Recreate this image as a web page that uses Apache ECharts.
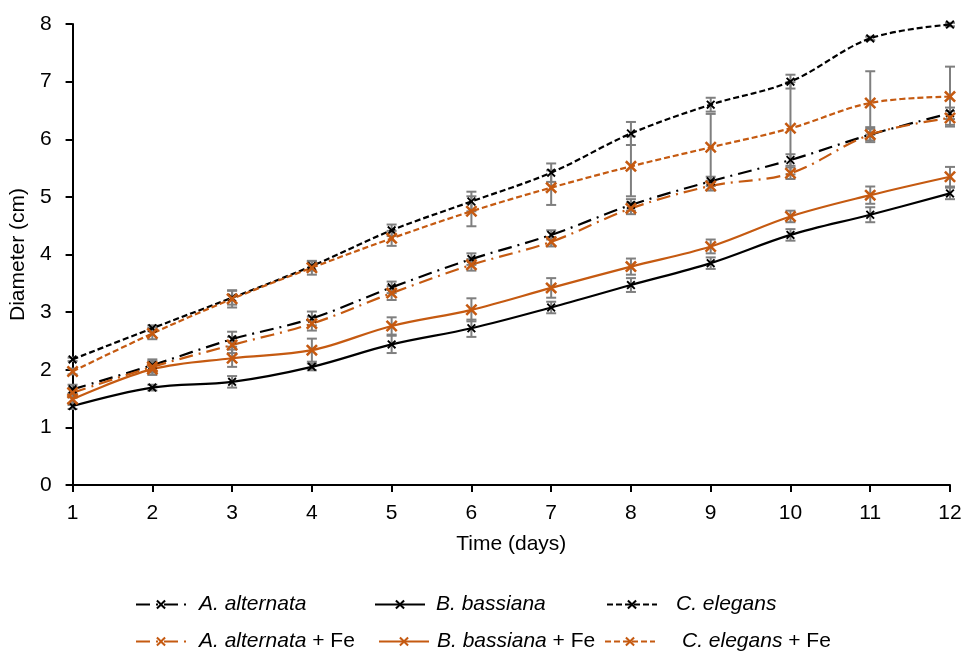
<!DOCTYPE html>
<html>
<head>
<meta charset="utf-8">
<script src="https://cdn.jsdelivr.net/npm/echarts@6/dist/echarts.min.js"></script>
<style>html,body{margin:0;padding:0;background:#fff}#c{width:965px;height:651px}</style>
</head>
<body>
<div id="c"></div>
<script>
var days = [1,2,3,4,5,6,7,8,9,10,11,12];
var yTicks = [0,1,2,3,4,5,6,7,8];

var aAlt      = [1.66, 2.08, 2.53, 2.89, 3.43, 3.92, 4.34, 4.86, 5.27, 5.64, 6.08, 6.45];
var aAltErr   = [0.08, 0.10, 0.13, 0.12, 0.10, 0.10, 0.08, 0.10, 0.08, 0.10, 0.13, 0.10];
var bBas      = [1.37, 1.69, 1.79, 2.05, 2.44, 2.72, 3.08, 3.47, 3.85, 4.34, 4.69, 5.06];
var bBasErr   = [0.05, 0.05, 0.10, 0.06, 0.15, 0.15, 0.10, 0.12, 0.10, 0.10, 0.13, 0.10];
var cEle      = [2.18, 2.72, 3.25, 3.80, 4.42, 4.92, 5.42, 6.10, 6.60, 7.00, 7.75, 7.99];
var cEleErr   = [0.03, 0.05, 0.12, 0.08, 0.10, 0.17, 0.16, 0.20, 0.12, 0.12, 0.03, 0.03];
var aAltFe    = [1.60, 2.05, 2.43, 2.80, 3.33, 3.82, 4.22, 4.80, 5.19, 5.41, 6.08, 6.37];
var aAltFeErr = [0.08, 0.10, 0.14, 0.12, 0.12, 0.10, 0.08, 0.10, 0.08, 0.10, 0.10, 0.12];
var bBasFe    = [1.49, 2.01, 2.20, 2.34, 2.76, 3.04, 3.42, 3.79, 4.14, 4.66, 5.03, 5.35];
var bBasFeErr = [0.10, 0.10, 0.15, 0.20, 0.15, 0.20, 0.17, 0.14, 0.12, 0.10, 0.15, 0.17];
var cEleFe    = [1.97, 2.63, 3.23, 3.77, 4.28, 4.75, 5.16, 5.53, 5.86, 6.19, 6.63, 6.74];
var cEleFeErr = [0.05, 0.10, 0.15, 0.12, 0.13, 0.26, 0.30, 0.52, 0.58, 0.80, 0.55, 0.52];

var names = ['A. alternata','B. bassiana','C. elegans','A. alternata + Fe','B. bassiana + Fe','C. elegans + Fe'];

var BLACK = '#000000', ORANGE = '#C55A11', GRAY = '#7f7f7f';
var FONT = 'Liberation Sans, Arial, sans-serif';
var XPATH = 'path://M0,1.5L1.5,0L5,3.5L8.5,0L10,1.5L6.5,5L10,8.5L8.5,10L5,6.5L1.5,10L0,8.5L3.5,5Z';

var defs = [
  {name: names[0], vals: aAlt,   err: aAltErr,   color: BLACK,  dash: [14,6,2,6], size: 9},
  {name: names[1], vals: bBas,   err: bBasErr,   color: BLACK,  dash: 'solid',    size: 9},
  {name: names[2], vals: cEle,   err: cEleErr,   color: BLACK,  dash: [6,3],      size: 9},
  {name: names[3], vals: aAltFe, err: aAltFeErr, color: ORANGE, dash: [14,6,2,6], size: 12},
  {name: names[4], vals: bBasFe, err: bBasFeErr, color: ORANGE, dash: 'solid',    size: 12},
  {name: names[5], vals: cEleFe, err: cEleFeErr, color: ORANGE, dash: [6,3],      size: 12}
];

function errRender(params, api) {
  var x = api.value(0), v = api.value(1), e = api.value(2);
  var t = api.coord([x, v + e]), b = api.coord([x, v - e]);
  var w = 5;
  var st = {stroke: GRAY, lineWidth: 2};
  return {type: 'group', children: [
    {type: 'line', shape: {x1: t[0], y1: t[1], x2: b[0], y2: b[1]}, style: st},
    {type: 'line', shape: {x1: t[0]-w, y1: t[1], x2: t[0]+w, y2: t[1]}, style: st},
    {type: 'line', shape: {x1: b[0]-w, y1: b[1], x2: b[0]+w, y2: b[1]}, style: st}
  ]};
}

var series = [];
defs.forEach(function (d) {
  series.push({
    type: 'custom', name: d.name + ' err', silent: true, z: 1,
    renderItem: errRender,
    encode: {x: 0, y: 1},
    data: days.map(function (dd, i) { return [dd, d.vals[i], d.err[i]]; })
  });
});
defs.forEach(function (d) {
  series.push({
    type: 'line', name: d.name, z: 3, smooth: 0.35,
    symbol: XPATH, symbolSize: d.size, showAllSymbol: true,
    itemStyle: {color: d.color},
    lineStyle: {color: d.color, width: 2.2, type: d.dash},
    emphasis: {disabled: true},
    data: days.map(function (dd, i) { return [dd, d.vals[i]]; })
  });
});

function legendFmt(name) {
  var m = name.match(/^(.*?)( \+ Fe)?$/);
  return '{i|' + m[1] + '}' + (m[2] ? '{n| + Fe}' : '');
}
var richStyle = {
  i: {fontStyle: 'italic', fontSize: 21, fontFamily: FONT, color: '#000'},
  n: {fontSize: 21, fontFamily: FONT, color: '#000'}
};
var legendPos = [
  {left: 135, top: 594, pad: 8},
  {left: 374, top: 594, pad: 6},
  {left: 606, top: 594, pad: 14},
  {left: 135, top: 631, pad: 8},
  {left: 378, top: 631, pad: 3},
  {left: 604, top: 631, pad: 22}
];
var legends = names.map(function (n, i) {
  return {
    data: [n], left: legendPos[i].left, top: legendPos[i].top, padding: 0,
    itemWidth: 50, itemHeight: 12, selectedMode: false,
    formatter: legendFmt,
    textStyle: {fontSize: 21, fontFamily: FONT, color: '#000', rich: richStyle,
                padding: [0, 0, 0, legendPos[i].pad]}
  };
});

var chart = echarts.init(document.getElementById('c'), null, {renderer: 'canvas'});
chart.setOption({
  animation: false,
  backgroundColor: '#fff',
  textStyle: {fontFamily: FONT},
  grid: {left: 71, right: 15, top: 24, bottom: 166, containLabel: false},
  legend: legends,
  xAxis: {
    type: 'value', min: days[0], max: days[days.length - 1], interval: 1,
    name: 'Time (days)', nameLocation: 'middle', nameGap: 49,
    nameTextStyle: {fontSize: 21, color: '#000', fontFamily: FONT},
    axisLine: {lineStyle: {color: '#000', width: 2}},
    axisTick: {show: true, inside: false, length: 7, lineStyle: {color: '#000', width: 2}},
    axisLabel: {fontSize: 21, color: '#000', margin: 18, fontFamily: FONT},
    splitLine: {show: false}
  },
  yAxis: {
    type: 'value', min: yTicks[0], max: yTicks[yTicks.length - 1], interval: 1,
    name: 'Diameter (cm)', nameLocation: 'middle', nameGap: 37, nameRotate: 90,
    nameTextStyle: {fontSize: 21, color: '#000', fontFamily: FONT},
    axisLine: {show: true, lineStyle: {color: '#000', width: 2}},
    axisTick: {show: true, inside: false, length: 7, lineStyle: {color: '#000', width: 2}},
    axisLabel: {fontSize: 21, color: '#000', margin: 21, fontFamily: FONT},
    splitLine: {show: false}
  },
  series: series
});
</script>
</body>
</html>
